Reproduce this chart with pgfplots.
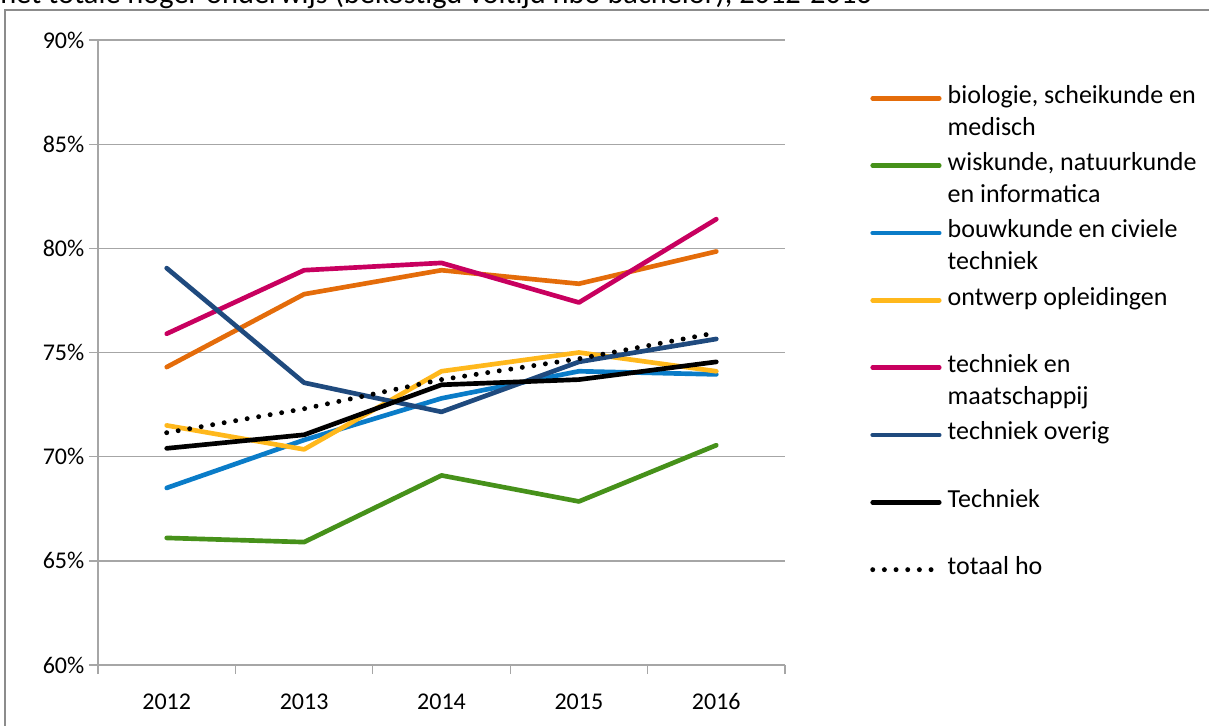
\documentclass[border=0pt]{standalone}
\usepackage{fontspec}
\setmainfont{Carlito}
\usepackage{pgfplots}
\pgfplotsset{compat=1.18}
\definecolor{cOrange}{HTML}{E46C0A}
\definecolor{cGreen}{HTML}{46911A}
\definecolor{cBlue}{HTML}{0A7CC8}
\definecolor{cYellow}{HTML}{FFB81C}
\definecolor{cPink}{HTML}{C8005F}
\definecolor{cDark}{HTML}{1F4A7E}
\definecolor{gridGray}{HTML}{A6A6A6}
\definecolor{frameGray}{HTML}{8C8C8C}
\newcommand\LE[1]{\raisebox{0pt}[14pt][6pt]{\begin{tabular}[t]{@{}l@{}}#1\end{tabular}}}
\begin{document}
\begin{tikzpicture}
\path[use as bounding box] (0pt,0pt) rectangle (906.75pt,-543.75pt);
\draw[frameGray, line width=1.1pt] (3.75pt,-560pt) -- (3.75pt,-7.5pt) -- (930pt,-7.5pt);
\node[anchor=base west, inner sep=0pt, font=\fontsize{22.8}{27}\selectfont] at (0pt,-2.4pt) {het totale hoger onderwijs (bekostigd voltijd hbo bachelor), 2012-2016};
\begin{axis}[
  at={(73.5pt,-498.75pt)}, anchor=south west,
  scale only axis, width=515.25pt, height=468.75pt,
  xmin=-0.5, xmax=4.5, ymin=60, ymax=90,
  axis x line*=bottom, axis y line*=left,
  axis line style={draw=gridGray, line width=1pt, -},
  xtick={-0.5,0.5,1.5,2.5,3.5,4.5}, xticklabels={},
  extra x ticks={0,1,2,3,4},
  extra x tick labels={2012,2013,2014,2015,2016},
  extra x tick style={major tick length=0pt,
    xticklabel style={anchor=base, yshift=-33pt}},
  ytick={60,65,70,75,80,85,90},
  yticklabels={60\%,65\%,70\%,75\%,80\%,85\%,90\%},
  ymajorgrids, grid style={gridGray, line width=1pt},
  tick align=outside, major tick length=6.75pt,
  tick style={gridGray, line width=1pt},
  ticklabel style={font=\fontsize{18}{21}\selectfont, text=black},
  every axis plot/.append style={line width=3.5pt, line join=round, line cap=round},
  legend image code/.code={\draw[#1] (1.3pt,3.75pt) -- (51.2pt,3.75pt);},
  legend style={draw=none, fill=none, inner sep=0pt,
    at={(axis description cs:1.1237,0.929)}, anchor=north west,
    font=\fontsize{19.5}{24}\selectfont, row sep=35pt, column sep=4.5pt,
    nodes={inner sep=0pt}, cells={anchor=base west}},
]
\addplot[cOrange] coordinates {(0,74.3) (1,77.8) (2,78.95) (3,78.3) (4,79.85)};
\addlegendentry{\LE{biologie, scheikunde en\\medisch}}
\addplot[cGreen] coordinates {(0,66.1) (1,65.9) (2,69.1) (3,67.85) (4,70.55)};
\addlegendentry{\LE{wiskunde, natuurkunde\\en informatica}}
\addplot[cBlue] coordinates {(0,68.5) (1,70.8) (2,72.8) (3,74.1) (4,73.95)};
\addlegendentry{\LE{bouwkunde en civiele\\techniek}}
\addplot[cYellow] coordinates {(0,71.5) (1,70.35) (2,74.1) (3,75.0) (4,74.1)};
\addlegendentry{\LE{ontwerp opleidingen}}
\addplot[cPink] coordinates {(0,75.9) (1,78.95) (2,79.3) (3,77.4) (4,81.4)};
\addlegendentry{\LE{techniek en\\maatschappij}}
\addplot[cDark] coordinates {(0,79.05) (1,73.55) (2,72.15) (3,74.55) (4,75.65)};
\addlegendentry{\LE{techniek overig}}
\addplot[black] coordinates {(0,70.4) (1,71.05) (2,73.45) (3,73.7) (4,74.55)};
\addlegendentry{\LE{Techniek}}
\addplot[black, line width=3.7pt, dash pattern=on 0pt off 8.75pt] coordinates {(0,71.15) (1,72.3) (2,73.7) (3,74.7) (4,75.95)};
\addlegendentry{\LE{totaal ho}}
\end{axis}
\end{tikzpicture}
\end{document}
